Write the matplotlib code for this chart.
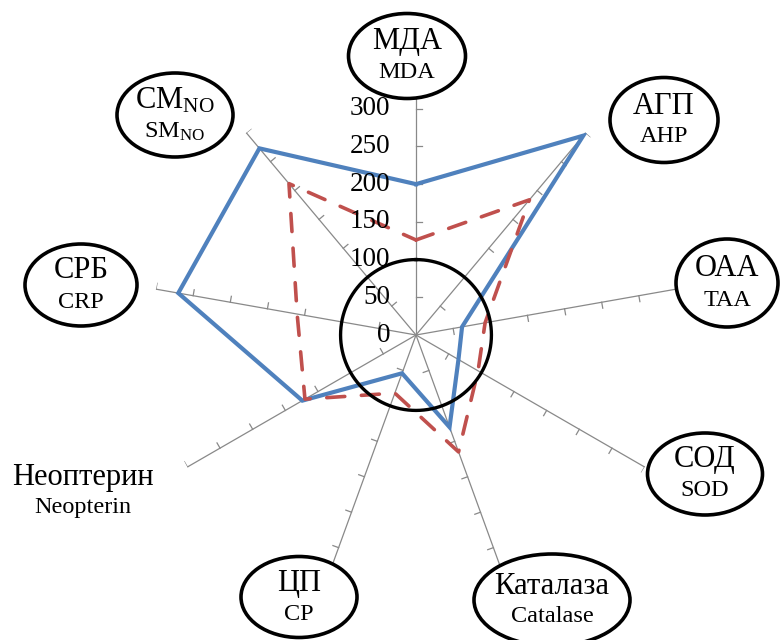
import numpy as np
import matplotlib
matplotlib.use('Agg')
import matplotlib.pyplot as plt
from matplotlib.patches import Ellipse
from matplotlib.transforms import offset_copy

plt.rcParams['font.family'] = ['Liberation Serif', 'DejaVu Serif']
plt.rcParams['mathtext.fontset'] = 'custom'
plt.rcParams['mathtext.rm'] = 'Liberation Serif'
plt.rcParams['mathtext.it'] = 'Liberation Serif:italic'

# ---- data ----
categories_ru = ['МДА', 'АГП', 'ОАА', 'СОД', 'Каталаза', 'ЦП', 'Неоптерин', 'СРБ',
                 r'СМ$_{\mathrm{NO}}$']
categories_en = ['MDA', 'AHP', 'TAA', 'SOD', 'Catalase', 'CP', 'Neopterin', 'CRP',
                 r'SM$_{\mathrm{NO}}$']
series_blue = [200, 345, 62, 65, 130, 54, 174, 320, 323]
series_red = [126, 234, 93, 95, 165, 82, 170, 160, 262]
tick_values = [0, 50, 100, 150, 200, 250, 300]
r_max = 350
norm_level = 100

# ---- layout (pixel positions of the category labels) ----
label_boxes = [  # (cx, cy, w, h, ellipse?)
    (407, 56, 117, 85, True),
    (664, 120, 108, 85, True),
    (727, 283, 102, 88, True),
    (705, 474, 115, 82, True),
    (552, 600, 156, 92, True),
    (299, 597, 116, 81, True),
    (83, 492, 0, 0, False),
    (81, 285, 112, 82, True),
    (175, 115, 116, 84, True),
]

W, H = 780, 640
fig = plt.figure(figsize=(W / 100, H / 100), dpi=100)
cx, cy, rad = 416, 335, 264
ax = fig.add_axes([(cx - rad) / W, (H - cy - rad) / H, 2 * rad / W, 2 * rad / H],
                  projection='polar')
ax.set_theta_zero_location('N')
ax.set_theta_direction(-1)
ax.set_ylim(0, r_max)
ax.patch.set_visible(False)
ax.spines['polar'].set_visible(False)

n = len(categories_ru)
angles = np.arange(n) * 2 * np.pi / n
ax.set_xticks(angles)
ax.set_xticklabels([])
ax.set_yticks([])
ax.xaxis.grid(True, color='#898989', lw=0.9)
ax.tick_params(length=0)

# tick marks on each spoke (clockwise side)
tick_len = 8
for a in angles:
    for r in range(50, r_max + 1, 50):
        r2 = np.hypot(r, tick_len)
        a2 = a + np.arctan2(tick_len, r)
        ax.plot([a, a2], [r, r2], color='#898989', lw=0.9, zorder=2)

# value labels along the first spoke
tr = offset_copy(ax.transData, fig=fig, x=-26, y=0, units='dots')
for v in tick_values:
    ax.text(0, v, str(v), transform=tr, ha='right', va='center', fontsize=19.5,
            color='black', zorder=6)

# series
th = np.r_[angles, angles[0]]
ax.plot(th, np.r_[series_blue, series_blue[0]], color='#4F81BD', lw=3,
        solid_joinstyle='miter', zorder=3)
ax.plot(th, np.r_[series_red, series_red[0]], color='#C0504D', lw=2.6,
        ls=(0, (5, 4.6)), dash_capstyle='round', zorder=4)

# reference circle
circ_t = np.linspace(0, 2 * np.pi, 361)
ax.plot(circ_t, np.full_like(circ_t, norm_level), color='black', lw=2.4, zorder=5)

# overlay for labels in ellipses
ov = fig.add_axes([0, 0, 1, 1], zorder=10)
ov.set_xlim(0, W)
ov.set_ylim(H, 0)
ov.axis('off')
ov.patch.set_visible(False)
for (x, y, w, h, ell), ru, en in zip(label_boxes, categories_ru, categories_en):
    if ell:
        ov.add_patch(Ellipse((x, y), w, h, facecolor='white', edgecolor='black',
                             lw=2.6, zorder=1))
        ov.text(x, y - 14, ru, ha='center', va='center', fontsize=22, zorder=2)
        ov.text(x, y + 17, en, ha='center', va='center', fontsize=17.5, zorder=2)
    else:
        ov.text(x, y - 14, ru, ha='center', va='center', fontsize=22, zorder=2)
        ov.text(x, y + 15, en, ha='center', va='center', fontsize=17.5, zorder=2)

fig.savefig('out.png', dpi=100, facecolor='white')
